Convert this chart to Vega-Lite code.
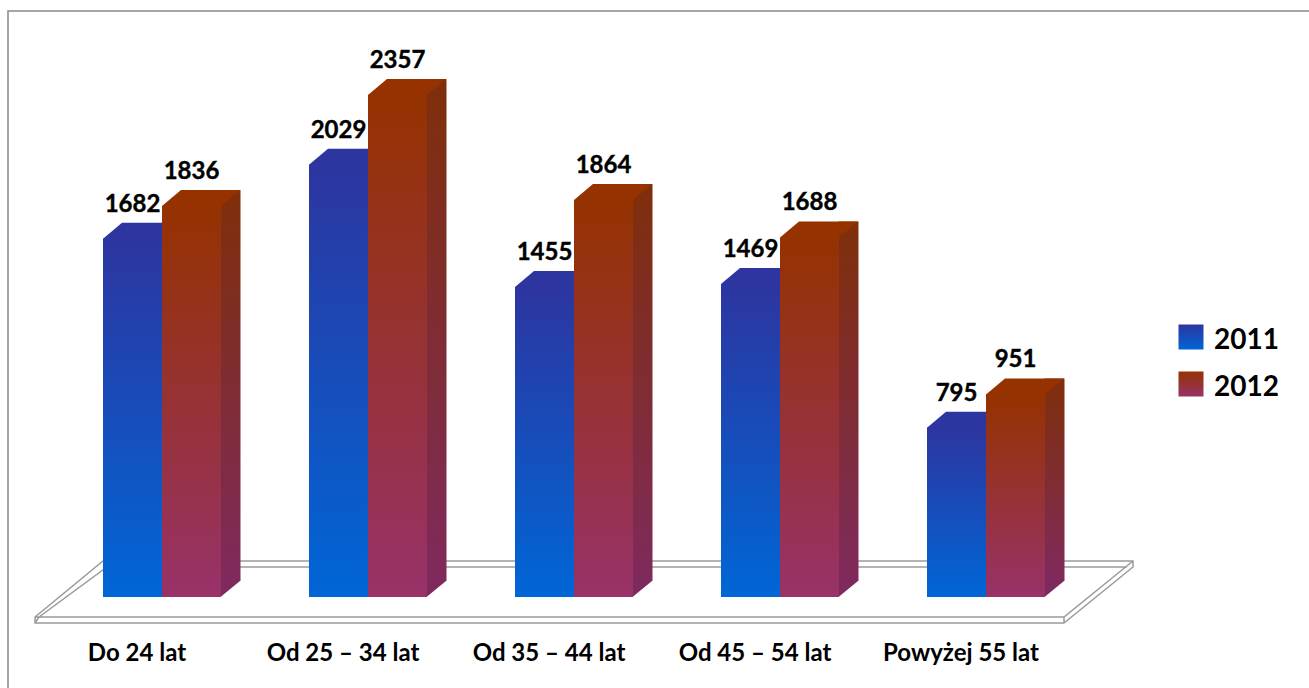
{
"$schema":"https://vega.github.io/schema/vega-lite/v6.json",
"width":1306,"height":684,
"autosize":{"type":"none"},
"padding":{"left":8,"top":11,"right":0,"bottom":0},
"background":"white",
"config":{"view":{"stroke":"#888888","strokeWidth":1.5},"font":"Lato"},
"datasets":{
"main":[
{"wiek":"Do 24 lat","rok":"2011","liczba":1682},
{"wiek":"Do 24 lat","rok":"2012","liczba":1836},
{"wiek":"Od 25 – 34 lat","rok":"2011","liczba":2029},
{"wiek":"Od 25 – 34 lat","rok":"2012","liczba":2357},
{"wiek":"Od 35 – 44 lat","rok":"2011","liczba":1455},
{"wiek":"Od 35 – 44 lat","rok":"2012","liczba":1864},
{"wiek":"Od 45 – 54 lat","rok":"2011","liczba":1469},
{"wiek":"Od 45 – 54 lat","rok":"2012","liczba":1688},
{"wiek":"Powyżej 55 lat","rok":"2011","liczba":795},
{"wiek":"Powyżej 55 lat","rok":"2012","liczba":951}
],
"floor":[{"wiek":"Od 35 – 44 lat","liczba":0}]
},
"data":{"name":"main"},
"encoding":{
"x":{"field":"wiek","type":"nominal","sort":null,
"scale":{"domain":["Do 24 lat","Od 25 – 34 lat","Od 35 – 44 lat","Od 45 – 54 lat","Powyżej 55 lat"],"range":[95,1037],"paddingInner":0.4272,"paddingOuter":0},
"axis":{"title":null,"domain":false,"ticks":false,"grid":false,"labelAngle":0,"labelFont":"Lato","labelFontSize":24,"labelFontWeight":"bold","labelColor":"#000000","labelOffset":-25,"labelPadding":-54,"labelOverlap":false}},
"y":{"field":"liczba","type":"quantitative","scale":{"domain":[0,2751],"range":[586,0],"nice":false,"zero":true},"axis":null}
},
"layer":[
{"data":{"name":"floor"},
"mark":{"type":"point","filled":true,"opacity":1,"fill":"#ffffff","stroke":"#9a9a9a","strokeWidth":1.5,"size":4,
"shape":"M-539 20 L-471 -36 L559 -36 L559 -30 L490 26 L-539 26 Z M-539 20 L490 20 L559 -36 M490 20 L490 26 M-535 20 L-467 -30 L553 -30 M-539 26 L-535 20"}},
{"transform":[{"filter":"datum.rok==='2011'"}],
"mark":{"type":"point","filled":true,"opacity":1,"color":"#2d35a0","size":4,"shape":"M-29.5 0.5 L-29.5 0 L-10.5 -16 L48.5 -16 L29.5 0 L29.5 0.5 Z"},
"encoding":{"xOffset":{"field":"rok","type":"nominal"}}},
{"transform":[{"filter":"datum.rok==='2012'"}],
"mark":{"type":"bar","width":20,"xOffset":68.5,"yOffset":-16,"y2Offset":-16,"cornerRadius":0,
"color":{"gradient":"linear","x1":0,"y1":0,"x2":0,"y2":1,"stops":[{"offset":0,"color":"#7f2f0a"},{"offset":1,"color":"#7f2a5c"}]}}},
{"transform":[{"filter":"datum.rok==='2012'"}],
"mark":{"type":"point","filled":true,"opacity":1,"color":"#7f2a5c","size":4,"shape":"M29 0 L48.5 -16 L48.5 -17 L29 -17 Z"},
"encoding":{"y":{"datum":0,"type":"quantitative"},"xOffset":{"field":"rok","type":"nominal"}}},
{"transform":[{"filter":"datum.rok==='2012'"}],
"mark":{"type":"point","filled":true,"opacity":1,"color":"#953200","size":4,"shape":"M-29.5 0.5 L-29.5 0 L-10.5 -16 L48.5 -16 L29.5 0 L29.5 0.5 Z"},
"encoding":{"xOffset":{"field":"rok","type":"nominal"}}},
{"transform":[{"filter":"datum.rok==='2011'"}],
"mark":{"type":"bar","color":{"gradient":"linear","x1":0,"y1":0,"x2":0,"y2":1,"stops":[{"offset":0,"color":"#2d35a0"},{"offset":1,"color":"#0066d6"}]}},
"encoding":{"xOffset":{"field":"rok","type":"nominal"},
"opacity":{"field":"rok","type":"ordinal",
"scale":{"domain":["2011","2012"],"range":[1,1]},
"legend":{"title":null,"orient":"none","legendX":1169,"legendY":312,"symbolType":"square","symbolSize":625,"symbolStrokeWidth":0,"rowPadding":15,"labelFont":"Lato","labelFontSize":28,"labelFontWeight":"bold","labelColor":"#000000","labelOffset":9,
"encoding":{"labels":{"dy":{"value":4}},"symbols":{"fill":{"condition":{"test":"datum.value==='2011'","value":{"gradient":"linear","x1":0,"y1":0,"x2":0,"y2":1,"stops":[{"offset":0,"color":"#2d35a0"},{"offset":1,"color":"#0066d6"}]}},"value":{"gradient":"linear","x1":0,"y1":0,"x2":0,"y2":1,"stops":[{"offset":0,"color":"#953200"},{"offset":1,"color":"#983269"}]}}}}}
}}},
{"transform":[{"filter":"datum.rok==='2012'"}],
"mark":{"type":"bar","color":{"gradient":"linear","x1":0,"y1":0,"x2":0,"y2":1,"stops":[{"offset":0,"color":"#953200"},{"offset":1,"color":"#983269"}]}},
"encoding":{"xOffset":{"field":"rok","type":"nominal"}}},
{"mark":{"type":"text","font":"Lato","fontSize":24,"fontWeight":"bold","color":"#000000","stroke":"#000000","strokeWidth":0.4,"baseline":"alphabetic","dy":-27},
"encoding":{"xOffset":{"field":"rok","type":"nominal"},"text":{"field":"liczba","type":"quantitative","format":"d"}}}
]
}
